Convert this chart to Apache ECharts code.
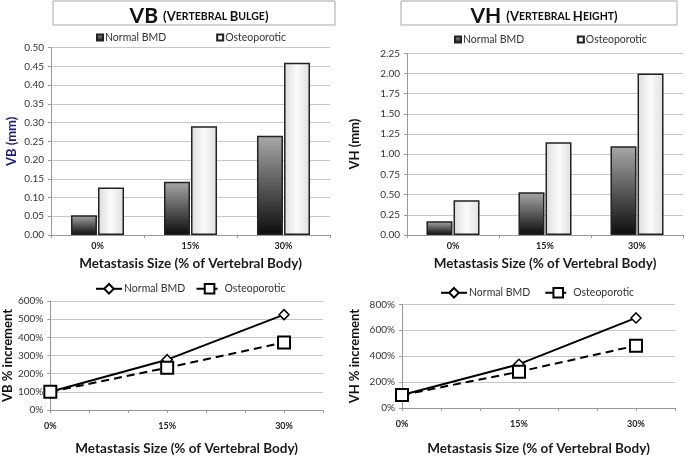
<!DOCTYPE html>
<html><head><meta charset="utf-8">
<script src="https://cdn.jsdelivr.net/npm/echarts@6/dist/echarts.min.js"></script>
<style>html,body{margin:0;padding:0;background:#fff}#c{width:685px;height:457px}</style>
</head><body><div id="c"></div>
<script>
const categories = ['0%', '15%', '30%'];
const vbNormal = [0.053, 0.142, 0.265];
const vbOsteo = [0.127, 0.29, 0.46];
const vhNormal = [0.17, 0.53, 1.10];
const vhOsteo = [0.43, 1.15, 2.00];
const sizeX = [0, 15, 30];
const vbIncNormal = [100, 277, 525];
const vbIncOsteo = [100, 233, 372];
const vhIncNormal = [100, 338, 695];
const vhIncOsteo = [100, 280, 481];

const FONT = 'Lato, "Open Sans", sans-serif';
const chart = echarts.init(document.getElementById('c'));
const darkFill = new echarts.graphic.LinearGradient(0, 0, 0, 1, [{offset: 0, color: '#a8a8a8'}, {offset: 1, color: '#0c0c0c'}]);
const lightFill = new echarts.graphic.LinearGradient(0, 0, 1, 0, [{offset: 0, color: '#dcdcdc'}, {offset: 0.5, color: '#fbfbfb'}, {offset: 1, color: '#dedede'}]);

function zip(xs, ys) { return xs.map((x, i) => [x, ys[i]]); }

const gridLine = {show: true, lineStyle: {color: '#c8c8c8', width: 1}};
const axLine = {show: true, lineStyle: {color: '#999', width: 1}};
const axTick = {show: true, length: 3, lineStyle: {color: '#999'}};
const yLab = {color: '#333', fontSize: 10, fontFamily: FONT};
const xLab = {color: '#222', fontSize: 9, fontWeight: 'bold', fontFamily: FONT};
const xName = 'Metastasis Size (% of Vertebral Body)';
const xNameStyle = {fontSize: 13.5, fontWeight: 'bold', color: '#1a1a1a', fontFamily: FONT};
const legText = {fontSize: 10.5, color: '#333', fontFamily: FONT, padding: [0, 0, 0, -3]};

function titleRich() {
  return {
    big: {fontSize: 21, fontWeight: 'bold', color: '#111', fontFamily: FONT},
    sc1: {fontSize: 13, fontWeight: 'bold', color: '#111', fontFamily: FONT},
    sc2: {fontSize: 10.5, fontWeight: 'bold', color: '#111', fontFamily: FONT}
  };
}

const option = {
  animation: false,
  title: [
    {text: '{big|VB }{sc1|(V}{sc2|ERTEBRAL }{sc1|B}{sc2|ULGE}{sc1|)}', left: 194, top: 1, textAlign: 'center', textStyle: {rich: titleRich()}},
    {text: '{big|VH }{sc1|(V}{sc2|ERTEBRAL }{sc1|H}{sc2|EIGHT}{sc1|)}', left: 539, top: 1, textAlign: 'center', textStyle: {rich: titleRich()}}
  ],
  graphic: [
    {type: 'rect', z: -1, shape: {x: 53, y: 1, width: 282, height: 24}, style: {fill: '#fff', stroke: '#a8a8a8', lineWidth: 1}},
    {type: 'rect', z: -1, shape: {x: 401, y: 1, width: 276, height: 24}, style: {fill: '#fff', stroke: '#a8a8a8', lineWidth: 1}}
  ],
  legend: [
    {data: ['Normal BMD', 'Osteoporotic'], left: 96, top: 32, padding: 0, itemWidth: 6, itemHeight: 6, itemGap: 50, icon: 'rect', textStyle: legText},
    {data: ['Normal BMD ', 'Osteoporotic '], left: 454, top: 34, padding: 0, itemWidth: 6, itemHeight: 6, itemGap: 50, icon: 'rect', textStyle: legText},
    {data: ['Normal BMD  ', 'Osteoporotic  '], left: 95, top: 283, padding: 0, itemWidth: 26, itemHeight: 12, itemGap: 5, textStyle: legText},
    {data: ['Normal BMD   ', 'Osteoporotic   '], left: 440, top: 287, padding: 0, itemWidth: 26, itemHeight: 12, itemGap: 6, textStyle: legText}
  ],
  grid: [
    {left: 51, right: 355, top: 47.7, bottom: 222},
    {left: 407, right: 2, top: 53.3, bottom: 222},
    {left: 49, right: 362, top: 301, bottom: 42.7},
    {left: 402, right: 10, top: 304.3, bottom: 41.3}
  ],
  xAxis: [
    {gridIndex: 0, type: 'category', data: categories, axisLine: axLine, axisTick: axTick, axisLabel: Object.assign({margin: 7}, xLab),
      name: xName, nameLocation: 'middle', nameGap: 22, nameTextStyle: xNameStyle},
    {gridIndex: 1, type: 'category', data: categories, axisLine: axLine, axisTick: axTick, axisLabel: Object.assign({margin: 7}, xLab),
      name: xName, nameLocation: 'middle', nameGap: 22, nameTextStyle: xNameStyle},
    {gridIndex: 2, type: 'value', min: 0, max: 35, interval: 5, splitLine: {show: false}, axisLine: axLine, axisTick: axTick,
      axisLabel: Object.assign({margin: 12, formatter: v => (v % 15 === 0 && v < 35) ? v + '%' : ''}, xLab),
      name: xName, nameLocation: 'middle', nameGap: 32, nameTextStyle: xNameStyle},
    {gridIndex: 3, type: 'value', min: 0, max: 35, interval: 5, splitLine: {show: false}, axisLine: axLine, axisTick: axTick,
      axisLabel: Object.assign({margin: 12, formatter: v => (v % 15 === 0 && v < 35) ? v + '%' : ''}, xLab),
      name: xName, nameLocation: 'middle', nameGap: 34, nameTextStyle: xNameStyle}
  ],
  yAxis: [
    {gridIndex: 0, type: 'value', min: 0, max: 0.5, interval: 0.05, splitLine: gridLine, axisLine: axLine, axisTick: axTick,
      axisLabel: Object.assign({formatter: v => v.toFixed(2), margin: 7}, yLab),
      name: 'VB (mm)', nameLocation: 'middle', nameGap: 33, nameTextStyle: {fontSize: 13, fontWeight: 'bold', color: '#1c1c72', fontFamily: FONT}},
    {gridIndex: 1, type: 'value', min: 0, max: 2.25, interval: 0.25, splitLine: gridLine, axisLine: axLine, axisTick: axTick,
      axisLabel: Object.assign({formatter: v => v.toFixed(2), margin: 7}, yLab),
      name: 'VH (mm)', nameLocation: 'middle', nameGap: 46, nameTextStyle: {fontSize: 13, fontWeight: 'bold', color: '#111', fontFamily: FONT}},
    {gridIndex: 2, type: 'value', min: 0, max: 600, interval: 100, splitLine: gridLine, axisLine: axLine, axisTick: axTick,
      axisLabel: Object.assign({formatter: v => v + '%', margin: 7}, yLab),
      name: 'VB % increment', nameLocation: 'middle', nameGap: 33, nameTextStyle: {fontSize: 13, fontWeight: 'bold', color: '#111', fontFamily: FONT}},
    {gridIndex: 3, type: 'value', min: 0, max: 800, interval: 200, splitLine: gridLine, axisLine: axLine, axisTick: axTick,
      axisLabel: Object.assign({formatter: v => v + '%', margin: 7}, yLab),
      name: 'VH % increment', nameLocation: 'middle', nameGap: 41, nameTextStyle: {fontSize: 13, fontWeight: 'bold', color: '#111', fontFamily: FONT}}
  ],
  series: [
    {name: 'Normal BMD', type: 'bar', xAxisIndex: 0, yAxisIndex: 0, data: vbNormal, barWidth: 26, barGap: '4%',
      itemStyle: {color: darkFill, borderColor: '#222', borderWidth: 1.5}},
    {name: 'Osteoporotic', type: 'bar', xAxisIndex: 0, yAxisIndex: 0, data: vbOsteo, barWidth: 26, barGap: '4%',
      itemStyle: {color: lightFill, borderColor: '#222', borderWidth: 1.5}},
    {name: 'Normal BMD ', type: 'bar', xAxisIndex: 1, yAxisIndex: 1, data: vhNormal, barWidth: 26, barGap: '4%',
      itemStyle: {color: darkFill, borderColor: '#222', borderWidth: 1.5}},
    {name: 'Osteoporotic ', type: 'bar', xAxisIndex: 1, yAxisIndex: 1, data: vhOsteo, barWidth: 26, barGap: '4%',
      itemStyle: {color: lightFill, borderColor: '#222', borderWidth: 1.5}},
    {name: 'Normal BMD  ', type: 'line', xAxisIndex: 2, yAxisIndex: 2, data: zip(sizeX, vbIncNormal), symbol: 'diamond', symbolSize: 10,
      lineStyle: {color: '#000', width: 2}, itemStyle: {color: '#fff', borderColor: '#000', borderWidth: 1.5}, z: 3},
    {name: 'Osteoporotic  ', type: 'line', xAxisIndex: 2, yAxisIndex: 2, data: zip(sizeX, vbIncOsteo), symbol: 'rect', symbolSize: 12,
      lineStyle: {color: '#000', width: 2, type: [8, 5]}, itemStyle: {color: '#fff', borderColor: '#000', borderWidth: 2}, z: 4},
    {name: 'Normal BMD   ', type: 'line', xAxisIndex: 3, yAxisIndex: 3, data: zip(sizeX, vhIncNormal), symbol: 'diamond', symbolSize: 10,
      lineStyle: {color: '#000', width: 2}, itemStyle: {color: '#fff', borderColor: '#000', borderWidth: 1.5}, z: 3},
    {name: 'Osteoporotic   ', type: 'line', xAxisIndex: 3, yAxisIndex: 3, data: zip(sizeX, vhIncOsteo), symbol: 'rect', symbolSize: 12,
      lineStyle: {color: '#000', width: 2, type: [8, 5]}, itemStyle: {color: '#fff', borderColor: '#000', borderWidth: 2}, z: 4}
  ]
};
chart.setOption(option);
</script></body></html>
